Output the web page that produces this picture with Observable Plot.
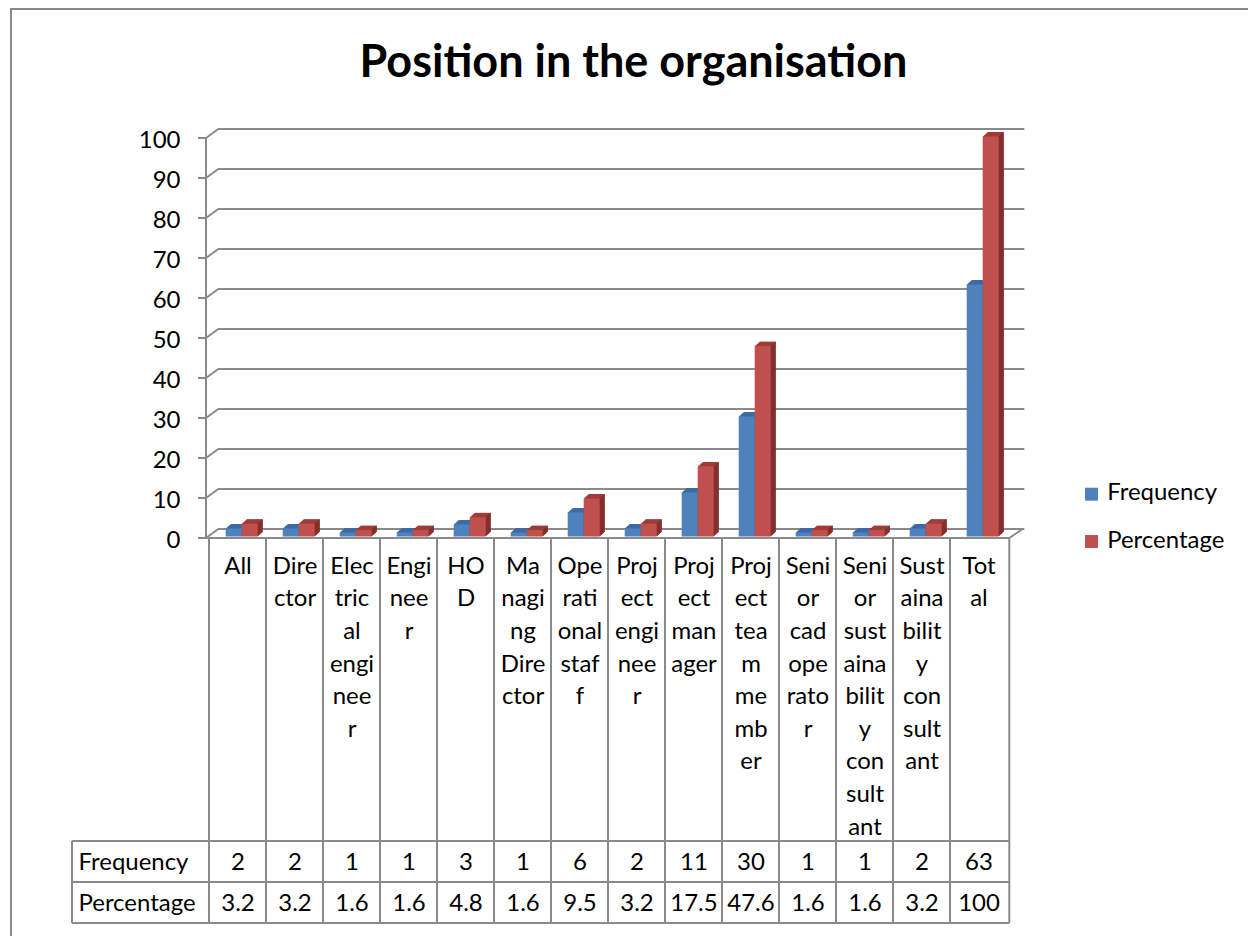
<!DOCTYPE html>
<html>
<head>
<meta charset="utf-8">
<script src="https://cdn.jsdelivr.net/npm/d3@7"></script>
<script src="https://cdn.jsdelivr.net/npm/@observablehq/plot@0.6"></script>
<style>
  html, body { margin: 0; padding: 0; background: #fff; }
  #wrap { position: relative; width: 1248px; height: 936px; overflow: hidden; background: #fff; }
  #border { position: absolute; left: 10px; top: 8px; width: 3000px; height: 3000px;
            border-left: 2px solid #8a8a8a; border-top: 2px solid #8a8a8a; box-sizing: border-box; }
  #chart { position: absolute; left: 0; top: 0; }
</style>
</head>
<body>
<div id="wrap"><div id="border"></div><div id="chart"></div></div>
<script>
// ---------------- data ----------------
const title = "Position in the organisation";
const categories = ["All", "Director", "Electrical engineer", "Engineer", "HOD", "Managing Director",
  "Operational staff", "Project engineer", "Project manager", "Project team member",
  "Senior cad operator", "Senior sustainability consultant", "Sustainability consultant", "Total"];
const categoryLabels = ["All", "Dire\nctor", "Elec\ntric\nal\nengi\nnee\nr", "Engi\nnee\nr", "HO\nD",
  "Ma\nnagi\nng\nDire\nctor", "Ope\nrati\nonal\nstaf\nf", "Proj\nect\nengi\nnee\nr", "Proj\nect\nman\nager",
  "Proj\nect\ntea\nm\nme\nmb\ner", "Seni\nor\ncad\nope\nrato\nr", "Seni\nor\nsust\naina\nbilit\ny\ncon\nsult\nant",
  "Sust\naina\nbilit\ny\ncon\nsult\nant", "Tot\nal"];
const frequency = [2, 2, 1, 1, 3, 1, 6, 2, 11, 30, 1, 1, 2, 63];
const percentage = [3.2, 3.2, 1.6, 1.6, 4.8, 1.6, 9.5, 3.2, 17.5, 47.6, 1.6, 1.6, 3.2, 100];
const seriesNames = ["Frequency", "Percentage"];
const yTicks = [0, 10, 20, 30, 40, 50, 60, 70, 80, 90, 100];

// ---------------- layout / style ----------------
const W = 1248, H = 936;
const mL = 206, mR = 238.7, mT = 138, mB = 398;
const BW = (W - mL - mR) / categories.length;
const GRID = "#8a8a8a";
const FONT = "Lato, 'Open Sans', sans-serif";

function fitSize(text, weight, target) {
  const c = document.createElement("canvas").getContext("2d");
  c.font = `${weight} 100px ${FONT}`;
  return 100 * target / c.measureText(text).width;
}
const FS = fitSize("Frequency", "normal", 110);
const TFS = fitSize(title, "bold", 548);

const rows = categories.map((c, i) => ({
  category: c, label: categoryLabels[i], Frequency: frequency[i], Percentage: percentage[i]
}));

const series = [
  {key: "Frequency", front: "#4F81BD", top: "#3D6AA3", side: "#2F5A8E", il: 16.7},
  {key: "Percentage", front: "#C0504D", top: "#9E3C3A", side: "#7E2E2C", il: 32.7}
];
const BARW = 16.3, DEPTH_X = 5, DEPTH_Y = 0.9, BASE_DY = -1.5, BACK_DY = -9.5, BACK_DX = 13;

// decorative frame: axis line, ticks, 3D diagonals, data-table grid
function decor(index, scales, values, dims) {
  const {y, x} = scales;
  const ns = "http://www.w3.org/2000/svg";
  const g = document.createElementNS(ns, "g");
  g.setAttribute("stroke", GRID);
  g.setAttribute("stroke-width", 2);
  g.setAttribute("fill", "none");
  const line = (x1, y1, x2, y2) => {
    const l = document.createElementNS(ns, "line");
    l.setAttribute("x1", x1); l.setAttribute("y1", y1);
    l.setAttribute("x2", x2); l.setAttribute("y2", y2);
    g.appendChild(l);
  };
  const left = dims.marginLeft, right = dims.width - dims.marginRight;
  const y0 = y(0);
  line(left, y0 + 1, left, y(100) - 1);
  for (const t of yTicks) {
    line(left - 8, y(t), left, y(t));
    line(left, y(t), left + BACK_DX, y(t) + BACK_DY);
  }
  line(right, y0, right + BACK_DX + 1, y0 + BACK_DY);
  // data table
  const r1 = y0 + 303, r2 = y0 + 344, r3 = y0 + 385, tl = 72;
  line(left, y0, right, y0);
  categories.forEach((c, i) => {
    const xb = (typeof x === "function" ? x(c) : left + i * BW);
    line(xb, y0, xb, r3);
  });
  line(right, y0, right, r3);
  line(tl, r1, right, r1);
  line(tl, r2, right, r2);
  line(tl, r3, right, r3);
  line(tl, r1, tl, r3);
  return g;
}

const marks = [];
// back wall gridlines
marks.push(Plot.ruleY(yTicks, {y: d => d, dy: BACK_DY, insetLeft: BACK_DX, insetRight: -(BACK_DX + 2), stroke: GRID, strokeWidth: 2}));
marks.push(decor);

// 3D bars
const steps = d3.range(0.5, DEPTH_X + 0.01, 0.5);
for (const s of series) {
  const ir = BW - s.il - BARW;
  for (const d of steps) {
    marks.push(Plot.barY(rows, {x: "category", y: s.key, fill: s.top, insetLeft: s.il, insetRight: ir,
      dx: d, dy: BASE_DY - DEPTH_Y * d}));
  }
  for (const d of steps) {
    marks.push(Plot.barY(rows, {x: "category", y: s.key, fill: s.side, insetLeft: s.il + BARW - 1, insetRight: ir,
      dx: d, dy: BASE_DY - DEPTH_Y * d}));
  }
  marks.push(Plot.barY(rows, {x: "category", y: s.key, fill: s.front, insetLeft: s.il, insetRight: ir, dy: BASE_DY}));
}

// y tick labels
marks.push(Plot.text(yTicks, {y: d => d, text: d => String(d), frameAnchor: "left", textAnchor: "end",
  dx: -26, dy: 2, fontSize: FS, fill: "#000"}));

// category labels
marks.push(Plot.text(rows, {x: "category", text: "label", frameAnchor: "bottom", lineAnchor: "top",
  lineHeight: 32.6 / FS, dy: 12.2, fontSize: FS, fill: "#000"}));

// data table values
marks.push(Plot.text(rows, {x: "category", text: d => String(d.Frequency), frameAnchor: "bottom", lineAnchor: "bottom",
  dy: 331, fontSize: FS, fill: "#000"}));
marks.push(Plot.text(rows, {x: "category", text: d => String(d.Percentage), frameAnchor: "bottom", lineAnchor: "bottom",
  dy: 372, fontSize: FS, fill: "#000"}));
// row headers
seriesNames.forEach((n, i) => {
  marks.push(Plot.text([n], {text: d => d, frameAnchor: "bottom-left", textAnchor: "start", lineAnchor: "bottom",
    dx: 78 - mL, dy: 331 + 41 * i, fontSize: FS, fill: "#000"}));
});

// legend
seriesNames.forEach((n, i) => {
  marks.push(Plot.dot([n], {frameAnchor: "top-left", dx: 1091 - mL, dy: 493.7 + 47.3 * i - mT,
    symbol: "square", r: 7.3, fill: series[i].front, stroke: "none"}));
  marks.push(Plot.text([n], {text: d => d, frameAnchor: "top-left", textAnchor: "start", lineAnchor: "bottom",
    dx: 1106.7 - mL, dy: 499.3 + 48 * i - mT, fontSize: FS, fill: "#000"}));
});

// title
marks.push(Plot.text([title], {text: d => d, frameAnchor: "top", lineAnchor: "bottom", fontWeight: "bold",
  fontSize: TFS, dx: 633 - (mL + (W - mR)) / 2, dy: 76 - mT, fill: "#000"}));

const chart = Plot.plot({
  width: W, height: H,
  marginLeft: mL, marginRight: mR, marginTop: mT, marginBottom: mB,
  x: {type: "band", domain: categories, padding: 0, axis: null},
  y: {domain: [0, 100], axis: null},
  style: {fontFamily: FONT, background: "transparent", overflow: "visible", color: "#000"},
  marks
});
document.getElementById("chart").appendChild(chart);
</script>
</body>
</html>
